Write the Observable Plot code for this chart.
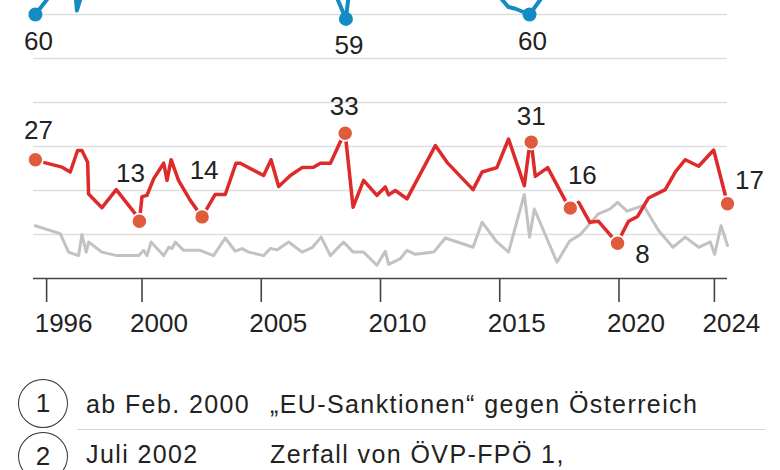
<!DOCTYPE html>
<html>
<head>
<meta charset="utf-8">
<script src="https://cdn.jsdelivr.net/npm/d3@7"></script>
<script src="https://cdn.jsdelivr.net/npm/@observablehq/plot@0.6"></script>
<style>
  html, body { margin: 0; padding: 0; background: #fff; overflow: hidden; }
  body { font-family: "Liberation Sans", Arial, sans-serif; color: #222; width: 780px; }
  #chart svg { display: block; }
  #notes { position: relative; height: 130px; }
  #notes .circ { position: absolute; box-sizing: border-box; width: 50px; height: 49px; border: 1.6px solid #333; border-radius: 50%;
                 display: flex; align-items: center; justify-content: center; font-size: 26px; color: #222; background: #fff; }
  #notes .t { position: absolute; font-size: 25px; line-height: 25px; white-space: nowrap; letter-spacing: 1.4px; color: #222; }
  #notes .sep { position: absolute; height: 0; border-top: 1.6px solid #d4d4d4; }
</style>
</head>
<body>
<div id="chart"></div>
<div id="notes"></div>
<script>
// ---- data ----
const redYears = [1995.53, 1995.87, 1996.65, 1996.99, 1997.3, 1997.48, 1997.72, 1997.76, 1998.32, 1998.92, 1999.72, 1999.89, 2000.0, 2000.21, 2000.49, 2000.91, 2001.05, 2001.22, 2001.53, 2002.03, 2002.52, 2003.07, 2003.49, 2003.94, 2004.12, 2005.1, 2005.41, 2005.73, 2006.22, 2006.71, 2007.19, 2007.48, 2007.9, 2008.31, 2008.52, 2008.85, 2009.29, 2009.85, 2010.2, 2010.34, 2010.62, 2010.83, 2011.11, 2012.3, 2012.79, 2013.88, 2014.26, 2014.88, 2015.37, 2016.03, 2016.21, 2016.32, 2016.49, 2017.01, 2017.75, 2017.96, 2018.31, 2018.77, 2019.14, 2019.94, 2020.13, 2020.4, 2020.78, 2021.24, 2021.94, 2022.36, 2022.78, 2023.34, 2023.97, 2024.55];
const redValues = [27, 26.4, 25.3, 24.2, 29.1, 29.1, 26.4, 19.2, 16.1, 20.2, 14.7, 13, 18.6, 18.9, 22.7, 26.2, 22.3, 27, 22.3, 17.7, 14, 19.1, 19.1, 26.2, 26.2, 23.4, 27, 20.9, 23.4, 25.2, 25.3, 26.2, 26.2, 31, 33, 16.2, 22.3, 18.9, 20.8, 19, 20, 19.2, 18.1, 30.2, 26.4, 20.2, 24.2, 25.2, 31.7, 21.1, 28.7, 31, 23.2, 25.2, 17.7, 16, 17.3, 12.8, 13, 8, 10.2, 13, 14.1, 18.3, 20.2, 24.2, 27, 25.5, 29.2, 17];

const grayYears = [1995.53, 1996.57, 1996.92, 1997.34, 1997.48, 1997.66, 1997.76, 1998.32, 1998.95, 1999.86, 2000.07, 2000.21, 2000.38, 2000.91, 2001.12, 2001.26, 2001.4, 2001.74, 2002.44, 2003.0, 2003.49, 2003.91, 2004.19, 2004.47, 2005.1, 2005.38, 2005.66, 2006.15, 2006.71, 2007.13, 2007.51, 2007.9, 2008.45, 2008.85, 2009.29, 2009.85, 2010.2, 2010.34, 2010.83, 2011.11, 2011.46, 2012.23, 2012.72, 2013.88, 2014.26, 2014.88, 2015.37, 2016.03, 2016.25, 2016.45, 2017.4, 2017.93, 2018.38, 2019.14, 2019.63, 2019.94, 2020.34, 2021.03, 2021.66, 2022.26, 2022.78, 2023.34, 2023.83, 2024.01, 2024.28, 2024.55];
const grayValues = [12, 10.2, 6, 5.2, 10, 6, 8.3, 6, 5.2, 5.2, 6.4, 5.2, 8.3, 5.2, 7.1, 6.8, 8.3, 6.4, 6.4, 5.2, 9.2, 6.2, 6.8, 6, 5.2, 6.8, 6.5, 8.3, 6, 7, 9.4, 5.2, 8.3, 6, 6, 3, 6.2, 3.2, 4.5, 6.4, 5.5, 6, 9.2, 7.1, 12.8, 8.3, 6, 19.1, 9.4, 15.8, 3.7, 8.5, 10, 14.7, 15.8, 17.3, 15.3, 16.6, 10.9, 7.1, 9.4, 7.1, 8.3, 5.5, 12, 7.5];

const blueYears = [1995.53, 1996.1, 1997.2, 1997.27, 1997.5, 2008.0, 2008.55, 2008.7, 2015.0, 2015.36, 2015.66, 2016.25, 2016.8, 2024.55];
const blueValues = [60, 64, 65.5, 60.9, 65, 66, 59, 66, 64, 61.7, 61.3, 60, 64.1, 66];

const redDotYears = [1995.53, 1999.89, 2002.52, 2008.52, 2016.32, 2017.96, 2019.94, 2024.55];
const redDotValues = [27, 13, 14, 33, 31, 16, 8, 17];
const blueDotYears = [1995.53, 2008.55, 2016.25];
const blueDotValues = [60, 59, 60];

const gridValues = [10, 20, 30, 40, 50, 60];
const tickYears = [1996, 2000, 2005, 2010, 2015, 2020, 2024];

const noteNumbers = ["1", "2"];
const noteDates = ["ab Feb. 2000", "Juli 2002"];
const noteTexts = ["„EU-Sanktionen“ gegen Österreich", "Zerfall von ÖVP-FPÖ 1,"];

// ---- layout (label offsets in px) ----
const redLabelOffsets = [[3, -29], [-9, -48], [2, -46], [-1, -27], [0, -25], [12, -32], [25, 11], [22, -23]];
const blueLabelOffset = [3, 27];

const red = redYears.map((x, i) => ({x, y: redValues[i]}));
const gray = grayYears.map((x, i) => ({x, y: grayValues[i]}));
const blue = blueYears.map((x, i) => ({x, y: blueValues[i]}));
const redDots = redDotYears.map((x, i) => ({x, y: redDotValues[i]}));
const blueDots = blueDotYears.map((x, i) => ({x, y: blueDotValues[i]}));

const RED = "#de2a2a", RED_DOT = "#e05a3c", BLUE = "#138cc4", GRAY = "#c2c2c2";

const marks = [
  Plot.ruleY(gridValues, {stroke: "#dedede", strokeWidth: 1.6}),
  Plot.line(gray, {x: "x", y: "y", stroke: GRAY, strokeWidth: 3, strokeLinejoin: "round"}),
  Plot.line(blue, {x: "x", y: "y", stroke: BLUE, strokeWidth: 4, strokeLinejoin: "round", clip: "frame"}),
  Plot.line(red, {x: "x", y: "y", stroke: RED, strokeWidth: 3.5, strokeLinejoin: "round"}),
  Plot.dot(redDots, {x: "x", y: "y", r: 6.7, fill: RED_DOT, stroke: "white", strokeWidth: 3.5, paintOrder: "stroke"}),
  Plot.dot(blueDots, {x: "x", y: "y", r: 7, fill: BLUE}),
  Plot.ruleY([0], {stroke: "#444", strokeWidth: 1.6}),
  Plot.axisX(tickYears, {tickSize: 24, stroke: "#444", strokeWidth: 1.6, fill: "none", label: null, tickFormat: d => String(d)}),
  Plot.axisX(tickYears, {tickSize: 0, tickPadding: 35, fontSize: 26, fill: "#222", dx: 17, label: null, tickFormat: d => String(d)}),
  Plot.text(blueDots, {x: "x", y: "y", text: d => String(d.y), dx: blueLabelOffset[0], dy: blueLabelOffset[1], fontSize: 26, fill: "#222"})
];
redDots.forEach((d, i) => {
  marks.push(Plot.text([d], {x: "x", y: "y", text: d => String(d.y), dx: redLabelOffsets[i][0], dy: redLabelOffsets[i][1], fontSize: 26, fill: "#222"}));
});

const chart = Plot.plot({
  width: 780,
  height: 345,
  marginLeft: 33,
  marginRight: 53,
  marginTop: 0,
  marginBottom: 67,
  x: {domain: [1995.45, 2024.55], axis: null},
  y: {domain: [0, 63.18], axis: null},
  style: {fontFamily: "'Liberation Sans', Arial, sans-serif", fontSize: "26px", color: "#222", background: "white", overflow: "hidden"},
  marks
});
document.getElementById("chart").appendChild(chart);

// ---- annotation list below the chart ----
const notes = document.getElementById("notes");
const rowTops = [33.5, 86.5];
const textTops = [47, 97];
noteNumbers.forEach((n, i) => {
  const c = document.createElement("div");
  c.className = "circ"; c.textContent = n;
  c.style.left = "18px"; c.style.top = rowTops[i] + "px";
  notes.appendChild(c);
  const d = document.createElement("div");
  d.className = "t"; d.textContent = noteDates[i];
  d.style.left = "86px"; d.style.top = textTops[i] + "px";
  notes.appendChild(d);
  const t = document.createElement("div");
  t.className = "t"; t.textContent = noteTexts[i];
  t.style.left = "270px"; t.style.top = textTops[i] + "px";
  notes.appendChild(t);
  if (i === 0) {
    const s = document.createElement("div");
    s.className = "sep";
    s.style.left = "77px"; s.style.top = "84px"; s.style.width = "688px";
    notes.appendChild(s);
  }
});
</script>
</body>
</html>
